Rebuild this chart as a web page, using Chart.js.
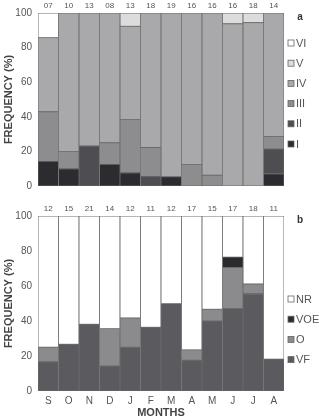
<!DOCTYPE html>
<html><head><meta charset="utf-8">
<script src="https://cdn.jsdelivr.net/npm/chart.js@4"></script>
<style>
html,body{margin:0;padding:0;background:#fff;}
#wa{position:absolute;left:0;top:0;width:319px;height:200px;}
#wb{position:absolute;left:0;top:200px;width:319px;height:219px;}
</style></head><body>
<div id="wa"><canvas id="ca"></canvas></div>
<div id="wb"><canvas id="cb"></canvas></div>
<script>
const months = ["S","O","N","D","J","F","M","A","M","J","J","A"];
const countsA = ["07","10","13","08","13","18","19","16","16","16","18","14"];
const countsB = ["12","15","21","14","12","11","12","17","15","17","18","11"];
const yTicks = [0,20,40,60,80,100];

// Panel a (stage classes)
const aI   = [14.3,10.0,0,12.5,7.7,0,5.3,0,0,0,0,7.1];
const aII  = [0,0,23.1,0,0,5.6,0,0,0,0,0,14.3];
const aIII = [28.6,10.0,0,12.5,30.8,16.7,0,12.5,6.25,0,0,7.1];
const aIV  = [42.8,80.0,76.9,75.0,53.8,77.7,94.7,87.5,93.75,93.75,94.4,71.5];
const aV   = [0,0,0,0,7.7,0,0,0,0,6.25,5.6,0];
const aVI  = [14.3,0,0,0,0,0,0,0,0,0,0,0];

// Panel b
const bVF  = [16.7,26.7,38.1,14.3,25.0,36.4,50.0,17.6,40.0,47.1,55.6,18.2];
const bO   = [8.3,0,0,21.4,16.7,0,0,5.9,6.7,23.5,5.5,0];
const bVOE = [0,0,0,0,0,0,0,0,0,5.9,0,0];
const bNR  = [75.0,73.3,61.9,64.3,58.3,63.6,50.0,76.5,53.3,23.5,38.9,81.8];

const FONT = "'Liberation Sans', Arial, sans-serif";
const BORDER = '#6b6b6b';

function ds(label, data, color){
  return {label, data, backgroundColor: color, borderColor: BORDER, borderWidth: 0.8,
          borderSkipped: false, barPercentage: 1, categoryPercentage: 1};
}

function makePlugin(counts, letter, legendItems, legendY, xTitle){
  return {
    id: 'extras',
    afterDraw(chart){
      const ctx = chart.ctx, ca = chart.chartArea, xs = chart.scales.x;
      ctx.save();
      ctx.fillStyle = '#555';
      ctx.font = '8px ' + FONT;
      ctx.textAlign = 'center'; ctx.textBaseline = 'middle';
      counts.forEach((c,i)=>{ ctx.fillText(c, xs.getPixelForValue(i), ca.top - 7); });
      ctx.fillStyle = '#333';
      ctx.font = 'bold 10px ' + FONT;
      ctx.fillText(letter, ca.right + 16, ca.top + 4);
      if (xTitle){
        ctx.fillStyle = '#444';
        ctx.font = 'bold 11px ' + FONT;
        ctx.fillText(xTitle, (ca.left + ca.right)/2, ca.bottom + 22);
      }
      ctx.font = '11px ' + FONT;
      ctx.textAlign = 'left';
      legendItems.forEach((it, k)=>{
        const y = legendY + k*20.2;
        const bx = ca.right + 4;
        ctx.fillStyle = it.color;
        ctx.fillRect(bx, y-3, 6, 6);
        ctx.strokeStyle = '#666'; ctx.lineWidth = 0.8;
        ctx.strokeRect(bx, y-3, 6, 6);
        ctx.fillStyle = '#555';
        ctx.fillText(it.label, bx + 8, y + 0.5);
      });
      ctx.restore();
    }
  };
}

function yScale(){
  return {
    stacked: true, min: 0, max: 100,
    afterBuildTicks: s => { s.ticks = yTicks.map(v=>({value:v})); },
    grid: {display:false, drawTicks:false}, border: {display:false},
    ticks: {color:'#555', font:{family:FONT, size:10}, padding: 6},
    title: {display:true, text:'FREQUENCY (%)', color:'#444', font:{family:FONT, size:11, weight:'bold'}, padding:{top:2,bottom:0}},
    afterFit: s => { s.width = 38; }
  };
}

const colA = {I:'#2b2b30', II:'#4d4d52', III:'#8d8d90', IV:'#a9a9ab', V:'#dcdcdc', VI:'#ffffff'};
new Chart(document.getElementById('ca'), {
  type: 'bar',
  data: { labels: months, datasets: [
    ds('I', aI, colA.I), ds('II', aII, colA.II), ds('III', aIII, colA.III),
    ds('IV', aIV, colA.IV), ds('V', aV, colA.V), ds('VI', aVI, colA.VI)
  ]},
  options: {
    responsive: true, maintainAspectRatio: false, animation: false,
    layout: {padding: {left: 0, right: 35, top: 13, bottom: 14}},
    plugins: {legend:{display:false}, tooltip:{enabled:false}},
    scales: {
      x: {stacked: true, display: false},
      y: yScale()
    }
  },
  plugins: [makePlugin(countsA, 'a', [
    {label:'VI', color:colA.VI},{label:'V', color:colA.V},{label:'IV', color:colA.IV},
    {label:'III', color:colA.III},{label:'II', color:colA.II},{label:'I', color:colA.I}], 43, null)]
});

const colB = {VF:'#5b5b5f', O:'#8b8b8e', VOE:'#2b2b2e', NR:'#ffffff'};
new Chart(document.getElementById('cb'), {
  type: 'bar',
  data: { labels: months, datasets: [
    ds('VF', bVF, colB.VF), ds('O', bO, colB.O), ds('VOE', bVOE, colB.VOE), ds('NR', bNR, colB.NR)
  ]},
  options: {
    responsive: true, maintainAspectRatio: false, animation: false,
    layout: {padding: {left: 0, right: 35, top: 16, bottom: 12}},
    plugins: {legend:{display:false}, tooltip:{enabled:false}},
    scales: {
      x: {stacked: true, grid:{display:false, drawTicks:false}, border:{display:false},
          ticks:{color:'#555', font:{family:FONT, size:10}, padding: 4, maxRotation:0, autoSkip:false},
          afterFit: s => { s.height = 16; }},
      y: yScale()
    }
  },
  plugins: [makePlugin(countsB, 'b', [
    {label:'NR', color:colB.NR},{label:'VOE', color:colB.VOE},{label:'O', color:colB.O},{label:'VF', color:colB.VF}], 99, 'MONTHS')]
});
</script>
</body></html>
